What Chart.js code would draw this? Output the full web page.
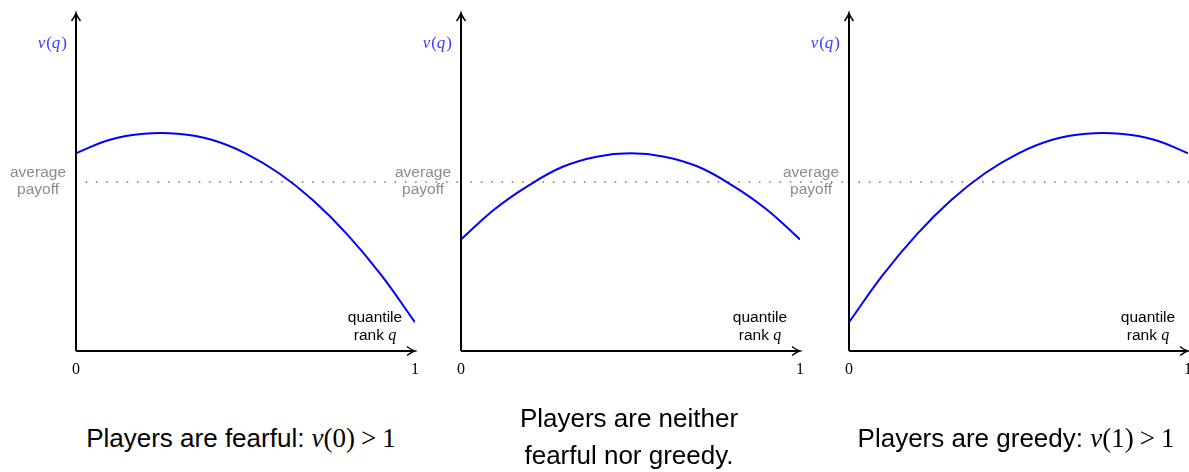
<!DOCTYPE html>
<html>
<head>
<meta charset="utf-8">
<script src="https://cdn.jsdelivr.net/npm/chart.js@4/dist/chart.umd.min.js"></script>
<style>
  html, body { margin: 0; padding: 0; background: #fff; }
  body { width: 1189px; height: 472px; position: relative; overflow: hidden; }
  canvas { position: absolute; top: 0; }
  .cap {
    position: absolute; width: 420px; text-align: center;
    font-family: "Liberation Sans", Arial, sans-serif; font-size: 26px; color: #000;
    line-height: 37px;
  }
  .m { font-family: "Liberation Serif", "Times New Roman", serif; font-size: 27px; }
  .m i { font-style: italic; }
  .m .op { margin: 0 6px; }
</style>
</head>
<body>
<canvas id="c1" width="470" height="400"></canvas>
<canvas id="c2" width="470" height="400"></canvas>
<canvas id="c3" width="470" height="400"></canvas>

<div class="cap" id="cap1">Players are fearful: <span class="m"><i>v</i>(0)<span class="op">&gt;</span>1</span></div>
<div class="cap" id="cap2">Players are neither<br>fearful nor greedy.</div>
<div class="cap" id="cap3">Players are greedy: <span class="m"><i>v</i>(1)<span class="op">&gt;</span>1</span></div>

<script>
// quantile rank q
const qs = [0, 0.1, 0.2, 0.3, 0.4, 0.5, 0.6, 0.7, 0.8, 0.9, 1.0];

// v(q) (average payoff = 1)
const fearful = [1.17, 1.25, 1.285, 1.285, 1.25, 1.17, 1.05, 0.89, 0.69, 0.45, 0.17];
const neutral = [0.66, 0.84, 0.98, 1.09, 1.15, 1.17, 1.15, 1.09, 0.98, 0.84, 0.66];
const greedy  = [0.17, 0.45, 0.69, 0.89, 1.05, 1.17, 1.25, 1.285, 1.285, 1.25, 1.17];

const avgPayoff = 1;
const avgSpan = [0, 1.13];   // dotted line runs a bit past q = 1
const xTickLabels = ['0', '1'];
const yMax = 2;

// where each panel's y-axis sits on the page
const axisLeft = [76, 461, 849];
const panels = [fearful, neutral, greedy];

// writes a run of [text, italic] pieces starting at x
function mathText(c, parts, x, y, size) {
  parts.forEach(([t, it]) => {
    c.font = (it ? 'italic ' : '') + size + 'px "Liberation Serif", serif';
    c.fillText(t, x, y);
    x += c.measureText(t).width + (it ? 1 : 0);
  });
}
function mathWidth(c, parts, size) {
  let w = 0;
  parts.forEach(([t, it]) => {
    c.font = (it ? 'italic ' : '') + size + 'px "Liberation Serif", serif';
    w += c.measureText(t).width + (it ? 1 : 0);
  });
  return w;
}

// draws the arrowed axes and all the small labels
const decor = {
  id: 'decor',
  afterDatasetsDraw(chart) {
    const c = chart.ctx;
    const xs = chart.scales.x, ys = chart.scales.y;
    const x0 = xs.getPixelForValue(0), x1 = xs.getPixelForValue(1);
    const y0 = ys.getPixelForValue(0), yt = ys.getPixelForValue(yMax);
    const ya = ys.getPixelForValue(avgPayoff);
    c.save();

    // axes
    c.strokeStyle = '#000';
    c.lineWidth = 2;
    c.beginPath();
    c.moveTo(x0, y0); c.lineTo(x1 - 2, y0);
    c.moveTo(x0, y0); c.lineTo(x0, yt + 2);
    c.stroke();

    // arrow heads
    c.lineWidth = 1.5;
    c.beginPath();
    c.moveTo(x1 - 8, y0 - 4.5);
    c.quadraticCurveTo(x1 - 3, y0 - 0.8, x1, y0);
    c.quadraticCurveTo(x1 - 3, y0 + 0.8, x1 - 8, y0 + 4.5);
    c.moveTo(x0 - 4.5, yt + 8);
    c.quadraticCurveTo(x0 - 0.8, yt + 3, x0, yt);
    c.quadraticCurveTo(x0 + 0.8, yt + 3, x0 + 4.5, yt + 8);
    c.stroke();

    // tick labels
    c.fillStyle = '#000';
    c.font = '16px "Liberation Serif", serif';
    c.textAlign = 'center';
    c.textBaseline = 'alphabetic';
    c.fillText(xTickLabels[0], x0, y0 + 23);
    c.fillText(xTickLabels[1], x1, y0 + 23);

    // v(q)
    c.textAlign = 'left';
    c.fillStyle = '#3b3bff';
    const vq = [['v', true], ['(', false], ['q', true], [')', false]];
    const vw = mathWidth(c, vq, 17);
    mathText(c, vq, x0 - 9 - vw, yt + 35, 17);

    // average payoff
    c.fillStyle = '#8c8c8c';
    c.font = '15.5px "Liberation Sans", Arial, sans-serif';
    c.textAlign = 'center';
    c.fillText('average', x0 - 38, ya - 5);
    c.fillText('payoff', x0 - 38, ya + 12);

    // quantile rank q
    c.fillStyle = '#000';
    const qx = x0 + 299;
    c.fillText('quantile', qx, y0 - 29);
    c.font = '15.5px "Liberation Sans", Arial, sans-serif';
    const w1 = c.measureText('rank ').width;
    c.font = 'italic 16px "Liberation Serif", serif';
    const w2 = c.measureText('q').width;
    c.textAlign = 'left';
    c.font = '15.5px "Liberation Sans", Arial, sans-serif';
    c.fillText('rank ', qx - (w1 + w2) / 2, y0 - 11);
    c.font = 'italic 16px "Liberation Serif", serif';
    c.fillText('q', qx - (w1 + w2) / 2 + w1, y0 - 11);

    c.restore();
  }
};

function makePanel(id, vals, left) {
  const el = document.getElementById(id);
  el.style.left = (left - 76) + 'px';
  return new Chart(el, {
    type: 'line',
    data: {
      datasets: [
        {
          data: qs.map((q, i) => ({ x: q, y: vals[i] })),
          borderColor: '#0000ff',
          borderWidth: 2,
          pointRadius: 0,
          tension: 0.4,
          fill: false,
        },
        {
          data: avgSpan.map(q => ({ x: q, y: avgPayoff })),
          borderColor: '#8a8a8a',
          borderWidth: 1.8,
          borderDash: [0, 10.3],
          borderCapStyle: 'round',
          pointRadius: 0,
          clip: false,
          fill: false,
        },
      ],
    },
    options: {
      responsive: false,
      animation: false,
      layout: { padding: { left: 76, right: 55, top: 13, bottom: 49 } },
      scales: {
        x: { type: 'linear', min: 0, max: 1, display: false },
        y: { min: 0, max: yMax, display: false },
      },
      plugins: { legend: { display: false }, tooltip: { enabled: false } },
    },
    plugins: [decor],
  });
}

panels.forEach((vals, i) => makePanel('c' + (i + 1), vals, axisLeft[i]));

// captions centred under each panel
const capIds = ['cap1', 'cap2', 'cap3'];
const capTops = [420, 400, 420];
const capShift = [-5, -2, -3];
capIds.forEach((id, i) => {
  const el = document.getElementById(id);
  el.style.left = (axisLeft[i] + 170 - 210 + capShift[i]) + 'px';
  el.style.top = capTops[i] + 'px';
});
</script>
</body>
</html>
